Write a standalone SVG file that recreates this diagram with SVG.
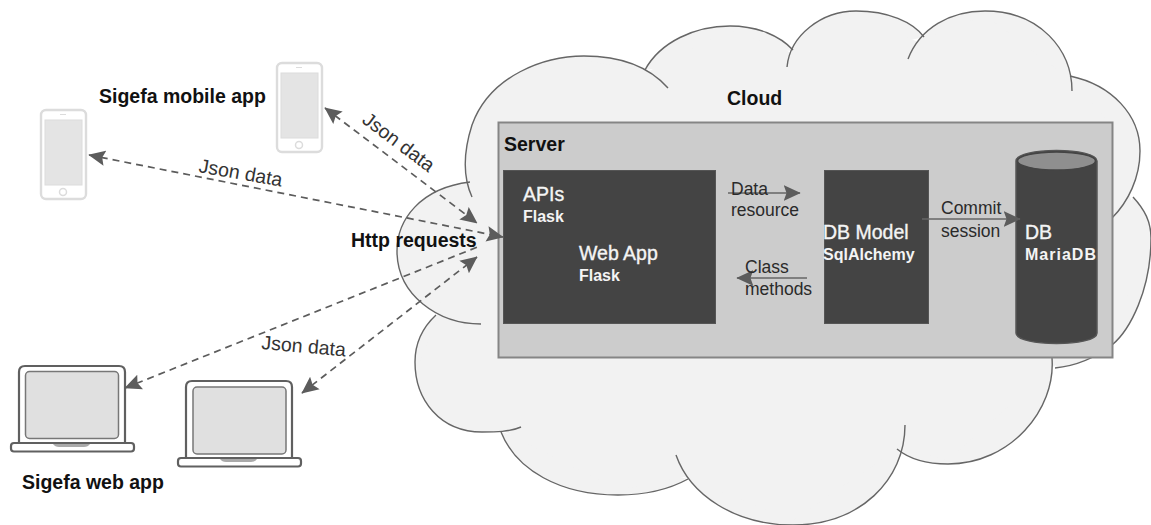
<svg xmlns="http://www.w3.org/2000/svg" width="1151" height="525" viewBox="0 0 1151 525">
<style>
text{font-family:"Liberation Sans",Arial,sans-serif;font-size:17.500px;fill:#2a2a2a}
.b{font-weight:bold;fill:#111;font-size:19.500px}
.j{font-size:19.500px;fill:#333}
.w{fill:#f4f4f4;font-size:19.500px;stroke:#f4f4f4;stroke-width:0.350}
.ws{fill:#f4f4f4;font-size:16px;font-weight:bold}
.box{fill:#444;stroke:#555;stroke-width:1}
.dash{fill:none;stroke:#5c5c5c;stroke-width:1.700;stroke-dasharray:7 5}
.solid{fill:none;stroke:#666;stroke-width:1.700}
.pb{fill:#fff;stroke:#dcdcdc;stroke-width:2.400}
.ps{fill:#e4e4e4;stroke:#dcdcdc;stroke-width:1}
.lb{fill:#fff;stroke:#606060;stroke-width:2.200}
.ls{fill:#e0e0e0;stroke:#777;stroke-width:1.500}
</style>
<defs>
<marker id="ah" viewBox="0 0 12 12" refX="11.500" refY="6" markerWidth="17" markerHeight="17" markerUnits="userSpaceOnUse" orient="auto-start-reverse"><path d="M0 0.500L12 6L0 11.500L2 6Z" fill="#5c5c5c"/></marker>
<g id="lobes">
<path d="M470 182C420 188 397 220 397 251C397 295 438 324 481 324"/>
<path d="M472 197C462 175 464 150 472 125C490 75 545 56 584 56C625 56 652 70 668 88"/>
<path d="M645 70C660 42 695 26 730 26C758 26 780 36 793 50"/>
<path d="M787 67C790 35 822 11 856 11C888 11 913 22 924 37"/>
<path d="M908 59C920 28 950 11 985 11C1040 11 1072 50 1072 91"/>
<path d="M1070 76C1112 85 1140 115 1140 151C1140 178 1128 202 1112 218"/>
<path d="M1133 197C1145 210 1151 222 1151 238C1151 290 1130 330 1112 345C1095 358 1075 366 1055 368"/>
<path d="M1052 358C1056 410 1010 464 948 464C925 464 908 458 897 449"/>
<path d="M905 425C905 480 860 525 793 525C735 525 690 495 676 455"/>
<path d="M688 479C668 490 645 495 618 495C560 495 516 470 501 432"/>
<path d="M521 427C510 432 495 432 482 432C440 432 415 400 415 362C415 345 422 328 436 315"/>
</g>
</defs>
<rect width="1151" height="525" fill="#fff"/>
<g id="cloud">
<use href="#lobes" fill="#f2f2f2" stroke="none"/>
<polygon points="470,190 472,125 584,60 647,72 730,30 790,52 856,15 918,42 985,15 1071,80 1135,151 1130,197 1148,238 1110,345 1054,366 948,460 899,448 793,520 684,477 618,490 505,432 482,428 420,362 436,320" fill="#f2f2f2"/>
<use href="#lobes" fill="none" stroke="#666" stroke-width="1.400"/>
<text class="b" x="727" y="105">Cloud</text>
</g>
<g id="server">
<rect x="498.500" y="122.500" width="614" height="235" fill="#ccc" stroke="#858585" stroke-width="2"/>
<text class="b" x="504" y="151">Server</text>
</g>
<g id="webapp">
<rect class="box" x="503.500" y="170.500" width="212" height="153"/>
<text class="w" x="523" y="201">APIs</text>
<text class="ws" x="523" y="222">Flask</text>
<text class="w" x="579" y="260">Web App</text>
<text class="ws" x="579" y="281">Flask</text>
</g>
<g id="dbmodel">
<rect class="box" x="824.500" y="170.500" width="104" height="153"/>
<text class="w" x="823" y="239">DB Model</text>
<text class="ws" x="823" y="260">SqlAlchemy</text>
</g>
<g id="db">
<path d="M1016 161C1016 147 1097 147 1097 161V333C1097 347 1016 347 1016 333Z" fill="#444" stroke="#555" stroke-width="1.500"/>
<ellipse cx="1056.500" cy="161" rx="39" ry="9" fill="#8f8f8f" stroke="#444" stroke-width="1.500"/>
<text class="w" x="1025" y="239">DB</text>
<text class="ws" x="1025" y="260" textLength="71">MariaDB</text>
</g>
<g id="phone-1">
<rect class="pb" x="41" y="110" width="45" height="89" rx="5"/>
<rect class="ps" x="45" y="120" width="37" height="65"/>
<circle cx="63" cy="192" r="3.500" fill="#fff" stroke="#dcdcdc" stroke-width="1.500"/>
<path d="M60 114.500H66" stroke="#dcdcdc" fill="none"/>
</g>
<g id="phone-2">
<rect class="pb" x="277" y="63" width="45" height="89" rx="5"/>
<rect class="ps" x="281" y="73" width="37" height="65"/>
<circle cx="299" cy="145" r="3.500" fill="#fff" stroke="#dcdcdc" stroke-width="1.500"/>
<path d="M296 67.500H302" stroke="#dcdcdc" fill="none"/>
<text class="b" x="99" y="103">Sigefa mobile app</text>
</g>
<g id="laptop-1">
<path class="lb" d="M19 443V372Q19 366 25 366H119Q125 366 125 372V443"/>
<rect class="ls" x="25.500" y="371.500" width="93" height="67" rx="4"/>
<rect class="lb" x="11" y="443" width="123" height="8.500" rx="3"/>
<path d="M53 444H90Q88 447 84 447H59Q55 447 53 444Z" fill="#aaa"/>
<text class="b" x="22" y="489">Sigefa web app</text>
</g>
<g id="laptop-2">
<path class="lb" d="M186 458V387Q186 381 192 381H286Q292 381 292 387V458"/>
<rect class="ls" x="193" y="387" width="93" height="67" rx="4"/>
<rect class="lb" x="178" y="458" width="123" height="8.500" rx="3"/>
<path d="M220 459H257Q255 462 251 462H226Q222 462 220 459Z" fill="#aaa"/>
</g>
<g id="connectors">
<path class="dash" d="M89 155L503 237" marker-start="url(#ah)" marker-end="url(#ah)"/>
<path class="dash" d="M325 108L477 223" marker-start="url(#ah)" marker-end="url(#ah)"/>
<path class="dash" d="M125 388L480 246" marker-start="url(#ah)"/>
<path class="dash" d="M302 393L477 257" marker-start="url(#ah)" marker-end="url(#ah)"/>
<path class="solid" d="M728 193H800" marker-end="url(#ah)"/>
<path class="solid" d="M922 219H1020" marker-end="url(#ah)"/>
<path class="solid" d="M807 278H737" marker-end="url(#ah)"/>
</g>
<g id="labels">
<text class="b" x="351" y="247">Http requests</text>
<text class="j" x="198" y="172" transform="rotate(10 198 172)">Json data</text>
<text class="j" x="361" y="122" transform="rotate(37 361 122)">Json data</text>
<text class="j" x="261" y="349" transform="rotate(5 261 349)">Json data</text>
<text x="731" y="195">Data</text>
<text x="731" y="216">resource</text>
<text x="941" y="214">Commit</text>
<text x="941" y="237">session</text>
<text x="745" y="273">Class</text>
<text x="745" y="295">methods</text>
</g>
</svg>
